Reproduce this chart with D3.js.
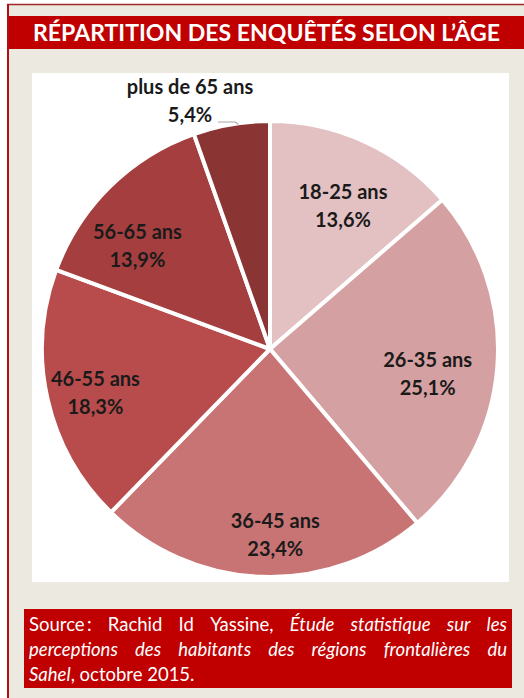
<!DOCTYPE html>
<html><head><meta charset="utf-8">
<script src="https://cdn.jsdelivr.net/npm/d3@7"></script>
<style>body{margin:0;background:#fff;}svg{display:block;}</style>
</head><body>
<script>
const title = "RÉPARTITION DES ENQUÊTÉS SELON L’ÂGE";
const categories = ["18-25 ans","26-35 ans","36-45 ans","46-55 ans","56-65 ans","plus de 65 ans"];
const values = [13.6, 25.1, 23.4, 18.3, 13.9, 5.4];
const valueLabels = ["13,6%","25,1%","23,4%","18,3%","13,9%","5,4%"];
const colors = ["#e3c1c3","#d5a0a1","#c87474","#b84c4c","#a53f3f","#8b3434"];

const W = 524, H = 698;
const svg = d3.select("body").append("svg").attr("width", W).attr("height", H);
const FONT = "Lato, 'Open Sans', sans-serif";

// background frame
svg.append("rect").attr("x",0).attr("y",0).attr("width",W).attr("height",H).attr("fill","#fff");
svg.append("rect").attr("x",8).attr("y",5).attr("width",W-8).attr("height",H-5).attr("fill","#ece9e0");
svg.append("line").attr("x1",7).attr("x2",W).attr("y1",4.5).attr("y2",4.5).attr("stroke","#a02828").attr("stroke-width",1.5);
svg.append("line").attr("x1",8).attr("x2",8).attr("y1",4).attr("y2",H).attr("stroke","#b01010").attr("stroke-width",2);

// title bar
svg.append("rect").attr("x",9).attr("y",16).attr("width",W-9).attr("height",33).attr("fill","#c00000");
svg.append("text").attr("x",33).attr("y",41).attr("fill","#fff")
  .attr("font-family",FONT).attr("font-weight","bold").attr("font-size",22)
  .attr("textLength",467).attr("lengthAdjust","spacingAndGlyphs").text(title);

// chart area
svg.append("rect").attr("x",32).attr("y",73).attr("width",477).attr("height",509).attr("fill","#fff");

// pie
const cx = 270, cy = 349, R = 228;
const pie = d3.pie().sort(null).value(d => d)(values);
const arc = d3.arc().innerRadius(0).outerRadius(R);
const g = svg.append("g").attr("transform",`translate(${cx},${cy})`);
g.selectAll("path").data(pie).join("path")
  .attr("d", arc).attr("fill",(d,i)=>colors[i])
  .attr("stroke","#fff").attr("stroke-width",4).attr("stroke-linejoin","round");

// label layout: radius fraction and angle tweak (degrees)
const labelLayout = [[0.706,2.4],[0.70,4.5],[0.816,-3.6],[0.79,-1.5],[0.737,-7.5]];
pie.forEach((d,i) => {
  let x, y;
  if (i < 5) {
    const a = (d.startAngle + d.endAngle)/2 + labelLayout[i][1]*Math.PI/180;
    const r = R*labelLayout[i][0];
    x = r*Math.sin(a); y = -r*Math.cos(a);
  } else {
    x = 190 - cx; y = 101 - cy;
  }
  const t = g.append("text").attr("text-anchor","middle")
    .attr("font-family",FONT).attr("font-weight","bold").attr("font-size",20).attr("fill","#1a1a1a");
  t.append("tspan").attr("x",x).attr("y",y-7).text(categories[i]);
  t.append("tspan").attr("x",x).attr("y",y+21).text(valueLabels[i]);
  if (i === 5) {
    const a = (d.startAngle + d.endAngle)/2 + 0.03;
    const ex = (R-1)*Math.sin(a), ey = -(R-1)*Math.cos(a);
    g.append("path").attr("d",`M${x+28},${y+21}H${ex-3}L${ex},${ey}`)
      .attr("fill","none").attr("stroke","#a6a6a6").attr("stroke-width",1.2);
  }
});

// source box
svg.append("rect").attr("x",24).attr("y",609).attr("width",488).attr("height",79).attr("fill","#c00000");
const lines = [
  [["Source\u2009:",false],["Rachid",false],["Id",false],["Yassine,",false],["Étude",true],["statistique",true],["sur",true],["les",true]],
  [["perceptions",true],["des",true],["habitants",true],["des",true],["régions",true],["frontalières",true],["du",true]],
];
const srcX0 = 29, srcX1 = 507, SRC_FS = 18.5;
lines.forEach((words,li) => {
  const y = 631 + li*25;
  const nodes = words.map(([w,it]) => svg.append("text").attr("y",y).attr("fill","#fff")
    .attr("font-family",FONT).attr("font-size",SRC_FS).attr("font-style",it?"italic":"normal").text(w));
  const widths = nodes.map(n => n.node().getComputedTextLength());
  const total = d3.sum(widths);
  const gap = (srcX1 - srcX0 - total)/(words.length-1);
  let x = srcX0;
  nodes.forEach((n,k) => { n.attr("x",x); x += widths[k] + gap; });
});
const last = svg.append("text").attr("x",srcX0).attr("y",681).attr("fill","#fff")
  .attr("font-family",FONT).attr("font-size",SRC_FS);
last.append("tspan").attr("font-style","italic").text("Sahel");
last.append("tspan").text(", octobre 2015.");
</script>
</body></html>
